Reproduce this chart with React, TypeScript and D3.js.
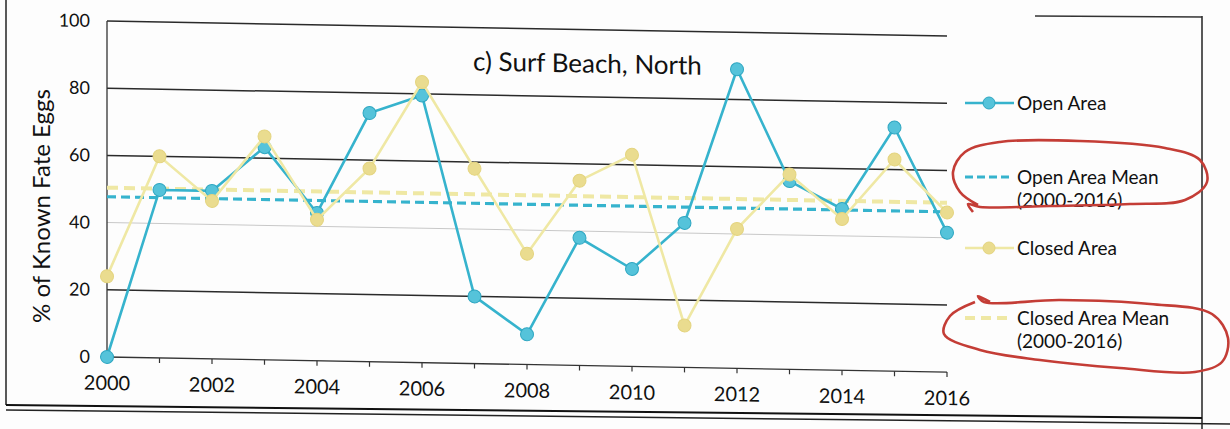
import React from "react";
import * as d3 from "d3";

const years = [2000, 2001, 2002, 2003, 2004, 2005, 2006, 2007, 2008, 2009, 2010, 2011, 2012, 2013, 2014, 2015, 2016];
const openArea = [0, 50, 50, 63.3, 44, 74, 79.5, 20, 9, 38, 29, 43, 89, 56, 48, 72.5, 41.5];
const closedArea = [24, 60, 47, 66.5, 42, 57.5, 83.5, 58, 33, 55, 63, 12.5, 41.5, 58, 45, 63, 47.5];
const openMean = 47.7;
const closedMean = 50.4;
const yTicks = [0, 20, 40, 60, 80, 100];
const xLabelYears = [2000, 2002, 2004, 2006, 2008, 2010, 2012, 2014, 2016];
const title = "c) Surf Beach, North";
const yTitle = "% of Known Fate Eggs";
const legendItems = [
  { lines: ["Open Area"], kind: "open" },
  { lines: ["Open Area Mean", "(2000-2016)"], kind: "openMean" },
  { lines: ["Closed Area"], kind: "closed" },
  { lines: ["Closed Area Mean", "(2000-2016)"], kind: "closedMean" },
];
// hand-drawn red annotation loops on the scan
const redLoop1: [number, number][] = [
  [973, 212], [968, 204], [980, 207], [1050, 206], [1130, 204], [1185, 200], [1207, 182], [1200, 160],
  [1165, 148], [1080, 141], [1000, 142], [965, 152], [953, 172], [960, 192], [978, 205],
];
const redLoop2: [number, number][] = [
  [990, 302], [978, 296], [984, 302], [1060, 300], [1150, 304], [1212, 314], [1228, 338], [1222, 362],
  [1195, 372], [1120, 368], [1040, 360], [980, 350], [944, 334], [950, 316], [975, 302],
];

const FONT = "Lato, 'Open Sans', sans-serif";
const BLUE = "#36b3cd";
const BLUE_FILL = "#55c3da";
const YEL = "#efe8a4";
const YEL_FILL = "#eadc8f";

export default function App() {
  const x = d3.scaleLinear().domain([2000, 2016]).range([107, 947]);
  const y = d3.scaleLinear().domain([0, 100]).range([357, 21]);
  const line = d3
    .line<number>()
    .x((_, i) => x(years[i]))
    .y((d) => y(d));
  const red = d3.line().curve(d3.curveCatmullRom.alpha(0.5));

  const skew = `translate(107,0) skewY(1.03) translate(-107,0)`;

  const legendY = [103, 177, 248, 318];

  return (
    <svg
      width={1230}
      height={429}
      style={{ position: "fixed", left: 0, top: 0, background: "#fff" }}
      fontFamily={FONT}
    >
      <rect x={0} y={0} width={1230} height={429} fill="#fdfdfd" />
      {/* outer frame (scan) */}
      <line x1={6} y1={0} x2={6} y2={405} stroke="#222" strokeWidth={1.5} />
      <line x1={1202} y1={16} x2={1202} y2={429} stroke="#222" strokeWidth={1.5} />
      <line x1={1035} y1={16} x2={1202} y2={17} stroke="#333" strokeWidth={1.3} />
      <line x1={6} y1={405} x2={1202} y2={418} stroke="#111" strokeWidth={2} />
      <line x1={6} y1={410} x2={1230} y2={424} stroke="#222" strokeWidth={1.5} />

      <g transform={skew}>
        {/* gridlines */}
        {yTicks.filter((t) => t > 0).map((t) => (
          <line
            key={t}
            x1={x(2000)}
            x2={x(2016)}
            y1={y(t)}
            y2={y(t)}
            stroke={t === 40 ? "#c8c8c8" : "#2a2a2a"}
            strokeWidth={t === 40 ? 1 : 1.5}
          />
        ))}
        {/* axes */}
        <line x1={x(2000)} x2={x(2000)} y1={y(100)} y2={y(0)} stroke="#333" strokeWidth={1.3} />
        <line x1={x(2000)} x2={x(2016)} y1={y(0)} y2={y(0)} stroke="#333" strokeWidth={1.3} />
        {years.map((yr) => (
          <line key={yr} x1={x(yr)} x2={x(yr)} y1={y(0)} y2={y(0) + 5} stroke="#333" strokeWidth={1.2} />
        ))}
        {yTicks.map((t) => (
          <text key={t} x={90} y={y(t)} dy="0.35em" textAnchor="end" fontSize={18} fill="#111">
            {t}
          </text>
        ))}
        {xLabelYears.map((yr) => (
          <text key={yr} x={x(yr)} y={390} textAnchor="middle" fontSize={20} fill="#111">
            {yr}
          </text>
        ))}

        {/* mean lines */}
        <line x1={x(2000)} x2={x(2016)} y1={y(closedMean)} y2={y(closedMean)} stroke={YEL} strokeWidth={4} strokeDasharray="11 6" />
        <line x1={x(2000)} x2={x(2016)} y1={y(openMean)} y2={y(openMean)} stroke={BLUE} strokeWidth={3.2} strokeDasharray="9 5" />

        {/* open area */}
        <path d={line(openArea) || ""} fill="none" stroke={BLUE} strokeWidth={2.6} />
        {openArea.map((v, i) => (
          <circle key={i} cx={x(years[i])} cy={y(v)} r={6.5} fill={BLUE_FILL} stroke="#2ea6c1" strokeWidth={1} />
        ))}
        {/* closed area */}
        <path d={line(closedArea) || ""} fill="none" stroke={YEL} strokeWidth={2.6} />
        {closedArea.map((v, i) => (
          <circle key={i} cx={x(years[i])} cy={y(v)} r={6.5} fill={YEL_FILL} stroke="#e4d47f" strokeWidth={1} />
        ))}

        <text x={473} y={64} fontSize={26} fill="#111">
          {title}
        </text>
      </g>

      <text transform={`translate(50,206) rotate(-90)`} textAnchor="middle" fontSize={24} fill="#111">
        {yTitle}
      </text>

      {/* legend */}
      {legendItems.map((it, i) => {
        const ly = legendY[i];
        const isOpen = it.kind.startsWith("open");
        const isMean = it.kind.endsWith("Mean");
        return (
          <g key={it.kind}>
            {isMean ? (
              <line
                x1={965}
                x2={1011}
                y1={ly}
                y2={ly}
                stroke={isOpen ? BLUE : YEL}
                strokeWidth={isOpen ? 3.2 : 4}
                strokeDasharray={isOpen ? "8 4" : "10 6"}
              />
            ) : (
              <g>
                <line x1={965} x2={1014} y1={ly} y2={ly} stroke={isOpen ? BLUE : YEL} strokeWidth={2.6} />
                <circle cx={989} cy={ly} r={6} fill={isOpen ? BLUE_FILL : YEL_FILL} stroke={isOpen ? "#2ea6c1" : "#e4d47f"} />
              </g>
            )}
            {it.lines.map((t, j) => (
              <text key={j} x={1017} y={ly + 7 + j * 23} fontSize={19} fill="#111">
                {t}
              </text>
            ))}
          </g>
        );
      })}

      {/* red annotation loops */}
      <path d={red(redLoop1) || ""} fill="none" stroke="#c43d36" strokeWidth={2.6} />
      <path d={red(redLoop2) || ""} fill="none" stroke="#c43d36" strokeWidth={2.6} />
    </svg>
  );
}
